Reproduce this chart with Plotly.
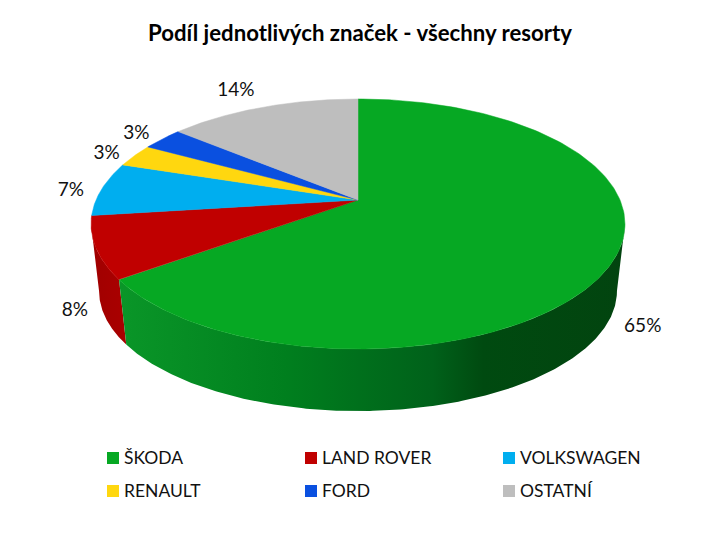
import numpy as np
import plotly.graph_objects as go

# Data
categories = ["ŠKODA", "LAND ROVER", "VOLKSWAGEN", "RENAULT", "FORD", "OSTATNÍ"]
values = [65, 8, 7, 3, 3, 14]
value_labels = ["65%", "8%", "7%", "3%", "3%", "14%"]
title_text = "Podíl jednotlivých značek - všechny resorty"

# Style
top_colors = ["#06A823", "#C00000", "#00AEEF", "#FFD70F", "#0A50E0", "#BEBEBE"]
side_scales = {
    0: [[0, "#0A9628"], [0.33, "#007F1E"], [0.62, "#00611A"], [0.72, "#004A10"], [1, "#02440F"]],
    1: [[0, "#A00000"], [1, "#AA0000"]],
}
FONT = "Lato"
TEXT = "#111111"

# Projection of the tilted pie (perspective view, canvas pixels)
CX, AY = 358.0, 200.0
PX, PY, PB = 262.0, 120.4, 0.192
DROP_Y, DROP_K, DROP_X = 268.0, 0.96, 0.97


def rim(theta, r=1.0):
    u, v = r * np.sin(theta), -r * np.cos(theta)
    d = 1 - PB * v
    return CX + PX * u / d, AY + PY * v / d


def lower(x, y):
    return CX + (x - CX) * DROP_X, DROP_Y + (y - AY) * DROP_K


fractions = np.cumsum([0] + values) / sum(values)
fig = go.Figure()

# Side walls: visible between the two widest points of the rim
vis_a = np.arccos(-PB)
vis_b = 2 * np.pi - vis_a
for i in [1, 0]:
    a = max(2 * np.pi * fractions[i], vis_a)
    b = min(2 * np.pi * fractions[i + 1], vis_b)
    th = np.linspace(a, b, 240)
    tx, ty = rim(th)
    bx, by = lower(tx, ty)
    xs = np.r_[tx, bx[::-1], tx[0]]
    ys = np.r_[ty, by[::-1], ty[0]]
    fig.add_trace(go.Scatter(
        x=xs, y=ys, mode="lines", fill="toself",
        line=dict(width=0),
        fillgradient=dict(type="horizontal", colorscale=side_scales[i],
                          start=float(xs.min()), stop=float(xs.max())),
        hoverinfo="skip", showlegend=False))

# Top faces
for i, c in enumerate(top_colors):
    th = np.linspace(2 * np.pi * fractions[i], 2 * np.pi * fractions[i + 1], 200)
    tx, ty = rim(th)
    fig.add_trace(go.Scatter(
        x=np.r_[CX, tx, CX], y=np.r_[AY, ty, AY], mode="lines", fill="toself",
        fillcolor=c, line=dict(width=0.5, color=c),
        hoverinfo="skip", showlegend=False))

# Value labels: rim point at the slice middle, nudged outward
label_shift_x = [29, -21, -31, -28, -26, -27]
label_shift_y = [67, 64, 2, -1, -5, -16]
mid = np.pi * (fractions[:-1] + fractions[1:])
lx, ly = rim(mid)
fig.add_trace(go.Scatter(
    x=lx + np.array(label_shift_x), y=ly + np.array(label_shift_y),
    mode="text", text=value_labels, textposition="middle center",
    textfont=dict(family=FONT, size=19, color=TEXT),
    hoverinfo="skip", showlegend=False))

# Legend grid
LEG_X0, LEG_DX, LEG_Y0, LEG_DY, LEG_GAP, LEG_TEXT_DY = 113, 198, 458, 33, 11, 2
leg_x = np.array([LEG_X0 + LEG_DX * (i % 3) for i in range(len(categories))])
leg_y = np.array([LEG_Y0 + LEG_DY * (i // 3) for i in range(len(categories))])
fig.add_trace(go.Scatter(
    x=leg_x, y=leg_y, mode="markers",
    marker=dict(symbol="square", size=12, color=top_colors, line=dict(width=0)),
    hoverinfo="skip", showlegend=False))
fig.add_trace(go.Scatter(
    x=leg_x + LEG_GAP, y=leg_y + LEG_TEXT_DY, mode="text", text=categories,
    textposition="middle right",
    textfont=dict(family=FONT, size=17.5, color=TEXT),
    hoverinfo="skip", showlegend=False))

fig.update_layout(
    width=720, height=540,
    margin=dict(l=0, r=0, t=0, b=0),
    paper_bgcolor="white", plot_bgcolor="white",
    showlegend=False,
    xaxis=dict(range=[0, 720], visible=False, fixedrange=True),
    yaxis=dict(range=[540, 0], visible=False, fixedrange=True),
    title=dict(text=f"<b>{title_text}</b>", x=0.5, xanchor="center",
               y=1 - 33 / 540, yanchor="middle",
               font=dict(family=FONT, size=22.2, color="#000000")),
)
fig.write_html("out.html", post_script="document.body.style.margin='0';",
               config={"displayModeBar": False})
